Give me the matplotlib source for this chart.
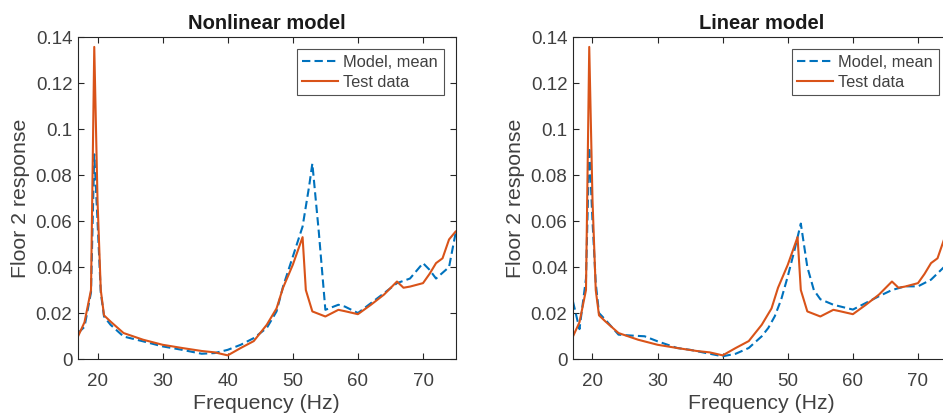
import matplotlib
matplotlib.use("Agg")
import matplotlib.pyplot as plt

plt.rcParams['font.family'] = ['Liberation Sans', 'DejaVu Sans']

# Test data (shared by both panels)
test_f = [17, 18, 19, 19.5, 20, 20.5, 21, 22, 24, 27, 30, 33, 36, 38, 40, 42, 44, 46,
          47.5, 48.5, 50, 51.5, 52, 53, 55, 57, 58, 60, 62, 64, 66, 67, 68, 70, 71, 72, 73, 74, 75]
test_y = [0.0098, 0.016, 0.030, 0.1357, 0.069, 0.030, 0.019, 0.0163, 0.0113, 0.0084, 0.0062,
          0.0048, 0.0035, 0.0029, 0.0016, 0.0048, 0.0078, 0.0149, 0.022, 0.031, 0.041, 0.053,
          0.030, 0.0207, 0.0185, 0.0214, 0.0208, 0.0195, 0.0236, 0.028, 0.0337, 0.031, 0.0315,
          0.033, 0.037, 0.0417, 0.0438, 0.052, 0.0554]

# Nonlinear model, mean
nl_f = [17, 18, 19, 19.5, 20, 20.5, 21, 22, 24, 27, 30, 33, 36, 38, 40, 42, 44, 46, 47.5,
        48.5, 50, 51.5, 52.5, 53, 54, 55, 57, 58, 60, 62, 64, 66, 68, 70, 71, 72, 74, 75]
nl_y = [0.0113, 0.014, 0.029, 0.089, 0.060, 0.029, 0.0185, 0.0149, 0.0098, 0.0077, 0.0055,
        0.004, 0.0023, 0.0026, 0.004, 0.0062, 0.0091, 0.0135, 0.0207, 0.0315, 0.0445, 0.0576,
        0.075, 0.085, 0.055, 0.0214, 0.0236, 0.0228, 0.020, 0.0243, 0.0286, 0.033, 0.035,
        0.0417, 0.0388, 0.035, 0.040, 0.0547]

# Linear model, mean
lin_f = [17, 18, 19, 19.5, 20, 20.5, 21, 22, 24, 26, 28, 30, 33, 35, 38, 40, 42, 44, 46, 47,
         48, 49, 50, 51, 52, 53, 54, 55, 57, 60, 62, 64, 66, 68, 70, 72, 74, 75]
lin_y = [0.025, 0.013, 0.035, 0.092, 0.060, 0.033, 0.020, 0.017, 0.0106, 0.0102, 0.0099,
         0.0077, 0.0048, 0.004, 0.0023, 0.0012, 0.0023, 0.0048, 0.0099, 0.0135, 0.0186, 0.026,
         0.036, 0.047, 0.0589, 0.040, 0.030, 0.026, 0.0236, 0.0215, 0.0244, 0.0273, 0.030,
         0.0316, 0.0316, 0.0345, 0.040, 0.042]

titles = ["Nonlinear model", "Linear model"]
models = [(nl_f, nl_y), (lin_f, lin_y)]
xticks = [20, 30, 40, 50, 60, 70]
yticks = [0, 0.02, 0.04, 0.06, 0.08, 0.1, 0.12, 0.14]
ytick_labels = ["0", "0.02", "0.04", "0.06", "0.08", "0.1", "0.12", "0.14"]

BLUE = "#0072BD"
ORANGE = "#D95319"
AXC = "#262626"
TXT = "#404040"

fig = plt.figure(figsize=(9.43, 4.17), dpi=100)
positions = [[0.0827, 0.139, 0.4004, 0.7722], [0.6076, 0.139, 0.4004, 0.7722]]

for pos, title, (mf, my) in zip(positions, titles, models):
    ax = fig.add_axes(pos)
    ax.plot(mf, my, color=BLUE, linestyle=(0, (4, 2)), linewidth=1.5, label="Model, mean")
    ax.plot(test_f, test_y, color=ORANGE, linestyle="-", linewidth=1.5, label="Test data")
    ax.set_xlim(17, 75)
    ax.set_ylim(0, 0.14)
    ax.set_xticks(xticks)
    ax.set_yticks(yticks)
    ax.set_yticklabels(ytick_labels)
    ax.tick_params(direction="in", top=True, right=True, length=4, width=0.8,
                   labelsize=13.5, colors=AXC, labelcolor=TXT)
    ax.tick_params(axis="x", pad=10)
    ax.tick_params(axis="y", pad=4)
    for sp in ax.spines.values():
        sp.set_color(AXC)
        sp.set_linewidth(0.8)
    ax.set_xlabel("Frequency (Hz)", fontsize=15.3, color=TXT, labelpad=3)
    ax.set_ylabel("Floor 2 response", fontsize=15.3, color=TXT, labelpad=4)
    ax.set_title(title, fontsize=14.5, fontweight="bold", color="#1a1a1a", pad=6)
    leg = ax.legend(loc="upper right", bbox_to_anchor=(0.969, 0.963), borderaxespad=0,
                    fontsize=11.8, frameon=True, fancybox=False, edgecolor=AXC,
                    handlelength=2.2, handletextpad=0.3, borderpad=0.35, labelspacing=0.3)
    leg.get_frame().set_linewidth(0.8)
    for t in leg.get_texts():
        t.set_color(TXT)

fig.savefig("out.png", dpi=100)
